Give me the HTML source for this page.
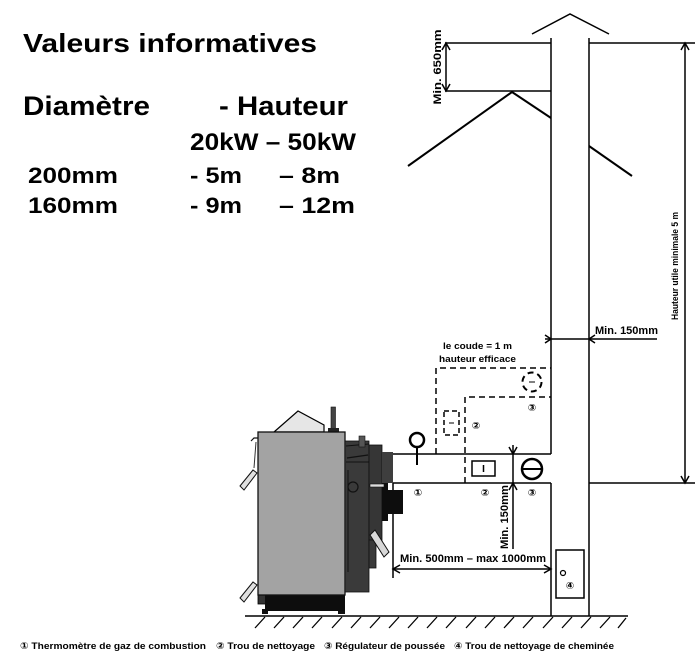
<!DOCTYPE html>
<html><head><meta charset="utf-8">
<style>
html,body{margin:0;padding:0;background:#fff;}
svg{display:block;}
text{font-family:"Liberation Sans","DejaVu Sans","Noto Sans CJK JP",sans-serif;font-weight:bold;fill:#000;}
</style></head>
<body>
<svg width="700" height="667" viewBox="0 0 700 667" xmlns="http://www.w3.org/2000/svg">
<rect width="700" height="667" fill="#fff"/>

<!-- Left text block -->
<text x="23" y="52" font-size="26" textLength="294" lengthAdjust="spacingAndGlyphs">Valeurs informatives</text>
<text x="23" y="115" font-size="27" textLength="127" lengthAdjust="spacingAndGlyphs">Diamètre</text>
<text x="219" y="115" font-size="27" textLength="129" lengthAdjust="spacingAndGlyphs">- Hauteur</text>
<text x="190" y="150" font-size="24" textLength="166" lengthAdjust="spacingAndGlyphs">20kW – 50kW</text>
<text x="28" y="183" font-size="22" textLength="90" lengthAdjust="spacingAndGlyphs">200mm</text>
<text x="190" y="183" font-size="22" textLength="52" lengthAdjust="spacingAndGlyphs">- 5m</text>
<text x="279" y="183" font-size="22" textLength="61" lengthAdjust="spacingAndGlyphs">– 8m</text>
<text x="28" y="213" font-size="22" textLength="90" lengthAdjust="spacingAndGlyphs">160mm</text>
<text x="190" y="213" font-size="22" textLength="52" lengthAdjust="spacingAndGlyphs">- 9m</text>
<text x="279" y="213" font-size="22" textLength="76" lengthAdjust="spacingAndGlyphs">– 12m</text>

<g stroke="#000" fill="none" stroke-width="1.5">
  <!-- chimney -->
  <line x1="551" y1="38" x2="551" y2="454"/>
  <line x1="551" y1="483" x2="551" y2="616"/>
  <line x1="589" y1="38" x2="589" y2="616"/>
  <polyline points="532,34 570,14 609,34"/>
  <!-- top reference lines -->
  <line x1="445" y1="43" x2="551" y2="43"/>
  <line x1="589" y1="43" x2="695" y2="43"/>
  <line x1="445" y1="91" x2="551" y2="91"/>
  <!-- min 650 dimension -->
  <line x1="446" y1="43" x2="446" y2="91"/>
  <polyline points="442,50 446,43 450,50"/>
  <polyline points="442,84 446,91 450,84"/>
  <!-- roof -->
  <polyline points="408,166 512,92 551,118" stroke-width="2"/>
  <line x1="589" y1="146" x2="632" y2="176" stroke-width="2"/>
  <!-- right dimension -->
  <line x1="685" y1="43" x2="685" y2="483"/>
  <polyline points="681,50 685,43 689,50"/>
  <polyline points="681,476 685,483 689,476"/>
  <line x1="589" y1="483" x2="695" y2="483"/>
  <!-- min 150 horizontal -->
  <line x1="545" y1="339" x2="657" y2="339"/>
  <polyline points="545,335 551,339 545,343"/>
  <polyline points="595,335 589,339 595,343"/>
  <!-- dashed elbow -->
  <path d="M436,454 V368 H551" stroke-dasharray="6,4"/>
  <path d="M465,483 V397 H551" stroke-dasharray="6,4"/>
  <circle cx="532" cy="382" r="9.5" stroke-width="2" stroke-dasharray="6,4"/>
  <line x1="529" y1="382" x2="535" y2="382" stroke-width="1"/>
  <rect x="444" y="411" width="15" height="24" stroke-dasharray="5,3"/>
  <line x1="449" y1="423" x2="454" y2="423" stroke-width="1"/>
  <!-- flue pipe -->
  <line x1="393" y1="454" x2="551" y2="454"/>
  <line x1="393" y1="483" x2="551" y2="483"/>
  <!-- thermometer -->
  <circle cx="417" cy="440" r="7" stroke-width="2.5"/>
  <line x1="417" y1="447" x2="417" y2="465" stroke-width="2"/>
  <!-- cleaning hole rect -->
  <rect x="472" y="461" width="23" height="15"/>
  <line x1="483.5" y1="465" x2="483.5" y2="472"/>
  <!-- draught regulator -->
  <circle cx="532" cy="469" r="10" stroke-width="2.5"/>
  <line x1="522" y1="469" x2="542" y2="469" stroke-width="2"/>
  <!-- min 150 vertical dim -->
  <line x1="513" y1="445" x2="513" y2="549"/>
  <polyline points="509,447 513,454 517,447"/>
  <polyline points="509,490 513,483 517,490"/>
  <!-- horizontal min 500 dim -->
  <line x1="393" y1="483" x2="393" y2="578"/>
  <line x1="393" y1="569" x2="551" y2="569"/>
  <polyline points="400,565 393,569 400,573"/>
  <polyline points="544,565 551,569 544,573"/>
  <!-- cleaning box 4 -->
  <rect x="556" y="550" width="28" height="48"/>
  <circle cx="563" cy="573" r="2.5" stroke-width="1.2"/>
  <!-- floor -->
  <line x1="245" y1="616" x2="628" y2="616"/>
</g>

<!-- floor hatching -->
<g stroke="#000" stroke-width="1.3">
  <line x1="255" y1="628" x2="265" y2="617"/>
  <line x1="274" y1="628" x2="284" y2="617"/>
  <line x1="293" y1="628" x2="303" y2="617"/>
  <line x1="312" y1="628" x2="322" y2="617"/>
  <line x1="332" y1="628" x2="342" y2="617"/>
  <line x1="351" y1="628" x2="361" y2="617"/>
  <line x1="370" y1="628" x2="380" y2="617"/>
  <line x1="389" y1="628" x2="399" y2="617"/>
  <line x1="408" y1="628" x2="418" y2="617"/>
  <line x1="427" y1="628" x2="437" y2="617"/>
  <line x1="446" y1="628" x2="456" y2="617"/>
  <line x1="466" y1="628" x2="476" y2="617"/>
  <line x1="485" y1="628" x2="495" y2="617"/>
  <line x1="504" y1="628" x2="514" y2="617"/>
  <line x1="523" y1="628" x2="533" y2="617"/>
  <line x1="543" y1="628" x2="553" y2="617"/>
  <line x1="562" y1="628" x2="572" y2="617"/>
  <line x1="581" y1="628" x2="591" y2="617"/>
  <line x1="600" y1="628" x2="610" y2="617"/>
  <line x1="618" y1="628" x2="626" y2="618"/>
</g>

<!-- Boiler -->
<g>
  <!-- feet / base -->
  <rect x="262" y="609" width="6" height="5" fill="#111"/>
  <rect x="338" y="609" width="7" height="5" fill="#111"/>
  <rect x="258" y="594" width="8" height="10" fill="#333" stroke="#000" stroke-width="0.8"/>
  <rect x="265" y="594" width="80" height="17" fill="#0d0d0d"/>
  <!-- hood -->
  <polygon points="274,432 298,411 324,425 324,432" fill="#e6e6e6" stroke="#000" stroke-width="1.2"/>
  <!-- stem -->
  <rect x="331" y="407" width="4.5" height="22" fill="#444" stroke="#111" stroke-width="0.6"/>
  <rect x="328" y="428" width="11" height="4" fill="#222"/>
  <!-- main body -->
  <rect x="258" y="432" width="87" height="163" fill="#a3a3a3" stroke="#111" stroke-width="1.3"/>
  <!-- front dark panel -->
  <rect x="345" y="441" width="24" height="151" fill="#3a3a3a" stroke="#111" stroke-width="0.8"/>
  <line x1="348" y1="470" x2="348" y2="572" stroke="#111" stroke-width="1"/>
  <line x1="346" y1="446" x2="369" y2="444" stroke="#111" stroke-width="1"/>
  <line x1="347" y1="458" x2="368" y2="455" stroke="#111" stroke-width="1.2"/>
  <line x1="346" y1="462" x2="369" y2="462" stroke="#111" stroke-width="1"/>
  <circle cx="353" cy="487" r="5" fill="none" stroke="#111" stroke-width="1.2"/>
  <rect x="359" y="436" width="6" height="11" fill="#555" stroke="#111" stroke-width="0.6"/>
  <!-- second panel -->
  <rect x="369" y="445" width="13" height="100" fill="#363636" stroke="#111" stroke-width="0.8"/>
  <rect x="369" y="540" width="7" height="28" fill="#3a3a3a" stroke="#111" stroke-width="0.8"/>
  <!-- flue connection -->
  <rect x="382" y="452" width="11" height="31" fill="#3e3e3e"/>
  <rect x="382" y="483" width="6" height="38" fill="#0d0d0d"/>
  <rect x="382" y="490" width="21" height="24" fill="#0d0d0d"/>
  <!-- pin -->
  <rect x="370" y="484" width="14" height="3" fill="#ddd" stroke="#111" stroke-width="0.6"/>
  <!-- right handle -->
  <polygon points="370,535 375,530 389,552 384,557" fill="#d8d8d8" stroke="#111" stroke-width="1"/>
  <!-- left handles -->
  <polygon points="240,486 253,470 257,473 244,490" fill="#e0e0e0" stroke="#111" stroke-width="1"/>
  <polygon points="240,598 253,582 257,585 244,602" fill="#e0e0e0" stroke="#111" stroke-width="1"/>
  <path d="M251,441 L254,438 L258,438" fill="none" stroke="#111" stroke-width="1.2"/>
  <line x1="256" y1="442" x2="254" y2="468" stroke="#333" stroke-width="1"/>
</g>

<!-- Labels -->
<text font-size="11" transform="translate(441,67) rotate(-90)" text-anchor="middle" textLength="75" lengthAdjust="spacingAndGlyphs">Min. 650mm</text>
<text font-size="9" transform="translate(678,266) rotate(-90)" text-anchor="middle" textLength="108" lengthAdjust="spacingAndGlyphs">Hauteur utile minimale 5 m</text>
<text x="595" y="334" font-size="11" textLength="63" lengthAdjust="spacingAndGlyphs">Min. 150mm</text>
<text x="443" y="349" font-size="9.5" textLength="69" lengthAdjust="spacingAndGlyphs">le coude = 1 m</text>
<text x="439" y="362" font-size="9.5" textLength="77" lengthAdjust="spacingAndGlyphs">hauteur efficace</text>
<text font-size="11" transform="translate(508,517) rotate(-90)" text-anchor="middle" textLength="64" lengthAdjust="spacingAndGlyphs">Min. 150mm</text>
<text x="400" y="562" font-size="11" textLength="146" lengthAdjust="spacingAndGlyphs">Min. 500mm – max 1000mm</text>

<g font-size="10" font-weight="normal">
  <text x="532" y="411" text-anchor="middle">③</text>
  <text x="476" y="429" text-anchor="middle">②</text>
  <text x="418" y="496" text-anchor="middle">①</text>
  <text x="485" y="496" text-anchor="middle">②</text>
  <text x="532" y="496" text-anchor="middle">③</text>
  <text x="570" y="589" text-anchor="middle">④</text>
</g>

<!-- footer -->
<g font-size="9.5">
  <text x="20" y="649" textLength="186" lengthAdjust="spacingAndGlyphs">① Thermomètre de gaz de combustion</text>
  <text x="216" y="649" textLength="99" lengthAdjust="spacingAndGlyphs">② Trou de nettoyage</text>
  <text x="324" y="649" textLength="121" lengthAdjust="spacingAndGlyphs">③ Régulateur de poussée</text>
  <text x="454" y="649" textLength="160" lengthAdjust="spacingAndGlyphs">④ Trou de nettoyage de cheminée</text>
</g>
</svg>
</body></html>
